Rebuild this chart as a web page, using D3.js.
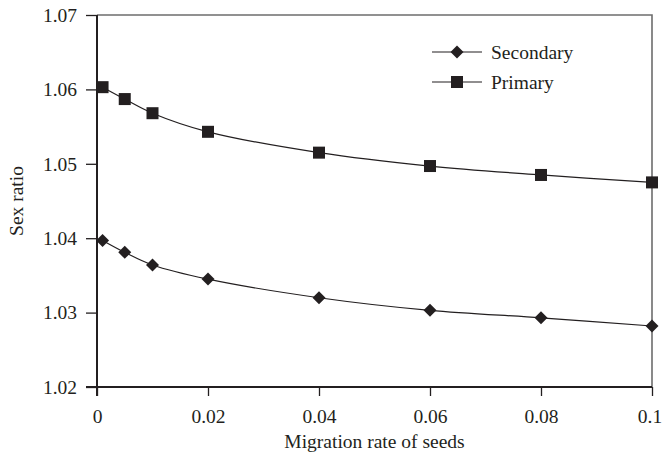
<!DOCTYPE html>
<html><head><meta charset="utf-8">
<script src="https://cdn.jsdelivr.net/npm/d3@7"></script>
<style>body{margin:0;background:#fff}svg{display:block}text{font-family:"Liberation Serif","Times New Roman",serif;fill:#231f20}</style>
</head><body><svg id="c" width="663" height="462"></svg>
<script>
const migration = [0.001, 0.005, 0.01, 0.02, 0.04, 0.06, 0.08, 0.1];
const secondary = [1.0397, 1.0381, 1.0364, 1.0345, 1.0320, 1.0303, 1.0293, 1.0282];
const primary   = [1.0603, 1.0587, 1.0568, 1.0543, 1.0515, 1.0497, 1.0485, 1.0475];
const xTicks = [0, 0.02, 0.04, 0.06, 0.08, 0.1];
const xTickLabels = ["0", "0.02", "0.04", "0.06", "0.08", "0.1"];
const yTicks = [1.02, 1.03, 1.04, 1.05, 1.06, 1.07];
const yTickLabels = ["1.02", "1.03", "1.04", "1.05", "1.06", "1.07"];
const seriesNames = ["Secondary", "Primary"];

const svg = d3.select("#c");
const L = 97, R = 652, T = 15, B = 387;
const FS = 19.5;
const x = d3.scaleLinear().domain([0, 0.1]).range([L, R]);
const y = d3.scaleLinear().domain([1.02, 1.07]).range([B, T]);
const ink = "#231f20";

// frame top/right
svg.append("path").attr("d", `M${L},${T}H${R}V${B}`).attr("fill", "none").attr("stroke", "#6d6d6d").attr("stroke-width", 1.6);

const yAxis = d3.axisLeft(y).tickValues(yTicks).tickFormat((d, i) => yTickLabels[i]).tickSize(11).tickPadding(9);
const gy = svg.append("g").attr("transform", `translate(${L},0)`).call(yAxis);
const xAxis = d3.axisBottom(x).tickValues(xTicks).tickFormat((d, i) => xTickLabels[i]).tickSize(9).tickPadding(13);
const gx = svg.append("g").attr("transform", `translate(0,${B})`).call(xAxis);
[gx, gy].forEach(g => {
  g.select(".domain").remove();
  g.selectAll(".tick line").attr("stroke", ink).attr("stroke-width", 1.3);
  g.selectAll(".tick text").attr("font-size", FS).attr("fill", ink).style("font-family", '"Liberation Serif", serif');
});
gx.selectAll(".tick text").filter((d, i) => i === xTicks.length - 1).attr("dx", -2.5);
// left and bottom axis lines
svg.append("line").attr("x1", L).attr("x2", L).attr("y1", T).attr("y2", B + 9).attr("stroke", ink).attr("stroke-width", 2);
svg.append("line").attr("x1", L - 11).attr("x2", R).attr("y1", B).attr("y2", B).attr("stroke", ink).attr("stroke-width", 2);

svg.append("text").attr("x", (L + R) / 2).attr("y", 448).attr("text-anchor", "middle").attr("font-size", FS).text("Migration rate of seeds");
svg.append("text").attr("transform", `translate(23,${(T + B) / 2}) rotate(-90)`).attr("text-anchor", "middle").attr("font-size", FS).text("Sex ratio");

const line = d3.line().x(d => x(d[0])).y(d => y(d[1])).curve(d3.curveCatmullRom);
const sets = [secondary, primary];
const diamond = s => `M0,${-s}L${s},0L0,${s}L${-s},0Z`;
sets.forEach((vals, k) => {
  const data = migration.map((m, i) => [m, vals[i]]);
  svg.append("path").datum(data).attr("d", line).attr("fill", "none").attr("stroke", ink).attr("stroke-width", 1.2);
  const g = svg.append("g");
  data.forEach(d => {
    if (k === 0) g.append("path").attr("d", diamond(6.5)).attr("transform", `translate(${x(d[0])},${y(d[1])})`).attr("fill", ink);
    else g.append("rect").attr("x", x(d[0]) - 6).attr("y", y(d[1]) - 6).attr("width", 12).attr("height", 12).attr("fill", ink);
  });
});

// legend
const legY = [52, 82];
seriesNames.forEach((n, k) => {
  const g = svg.append("g").attr("transform", `translate(432,${legY[k]})`);
  g.append("line").attr("x1", 0).attr("x2", 50).attr("stroke", ink).attr("stroke-width", 1.2);
  if (k === 0) g.append("path").attr("d", diamond(6.5)).attr("transform", "translate(25,0)").attr("fill", ink);
  else g.append("rect").attr("x", 19).attr("y", -6).attr("width", 12).attr("height", 12).attr("fill", ink);
  g.append("text").attr("x", 59).attr("y", 6.5).attr("font-size", FS).text(n);
});
</script></body></html>
